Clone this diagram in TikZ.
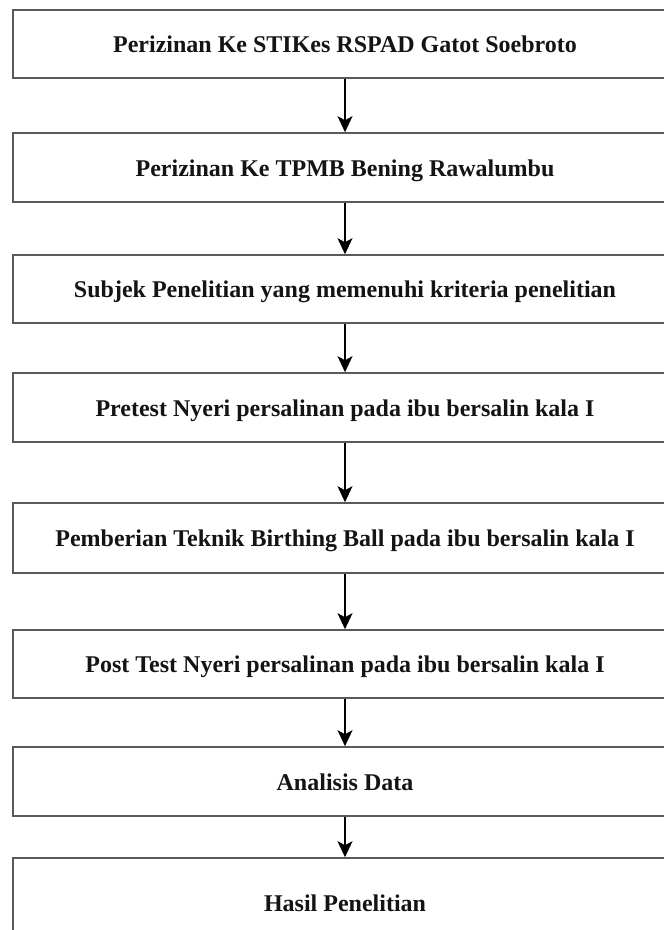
\documentclass[tikz,border=0pt]{standalone}
\usepackage{xcolor}
\usepackage{tikz}
\usepackage{fontspec}
\setmainfont{Liberation Serif}
\usetikzlibrary{arrows.meta,positioning}
\definecolor{boxline}{RGB}{90,90,90}
\definecolor{ink}{RGB}{20,20,20}

\tikzset{
    stepbox/.style={draw=boxline, line width=1.6pt, fill=white,
        minimum width=664pt, minimum height=68pt,
        text height=17pt, text depth=0pt, text=ink,
        font=\fontsize{24pt}{28pt}\selectfont\bfseries},
    flow/.style={->, line width=1.4pt, black}
}

\begin{document}
\begin{tikzpicture}[x=1pt, y=-1pt, >={Stealth[length=16pt, width=15pt, inset=4pt]}]
        % Frame
        \useasboundingbox (0,0) rectangle (664,930);
        \clip (0,0) rectangle (664,930);

        % Steps
        \node[stepbox] (izin1) at (345,44) {Perizinan Ke STIKes RSPAD Gatot Soebroto};
        \node[stepbox, minimum height=69pt] (izin2) at (345,167.5) {Perizinan Ke TPMB Bening Rawalumbu};
        \node[stepbox] (subjek) at (345,289) {Subjek Penelitian yang memenuhi kriteria penelitian};
        \node[stepbox, minimum height=69pt] (pretest) at (345,407.5) {Pretest Nyeri persalinan pada ibu bersalin kala I};
        \node[stepbox, minimum height=70pt] (ball) at (345,538) {Pemberian Teknik Birthing Ball pada ibu bersalin kala I};
        \node[stepbox] (posttest) at (345,664) {Post Test Nyeri persalinan pada ibu bersalin kala I};
        \node[stepbox, minimum height=69pt] (analisis) at (345,781.5) {Analisis Data};
        \node[stepbox, minimum height=90pt] (hasil) at (345,903) {Hasil Penelitian};

        % Arrows
        \draw[flow] (izin1) -- (izin2);
        \draw[flow] (izin2) -- (subjek);
        \draw[flow] (subjek) -- (pretest);
        \draw[flow] (pretest) -- (ball);
        \draw[flow] (ball) -- (posttest);
        \draw[flow] (posttest) -- (analisis);
        \draw[flow] (analisis) -- (hasil);
    \end{tikzpicture}
\end{document}
